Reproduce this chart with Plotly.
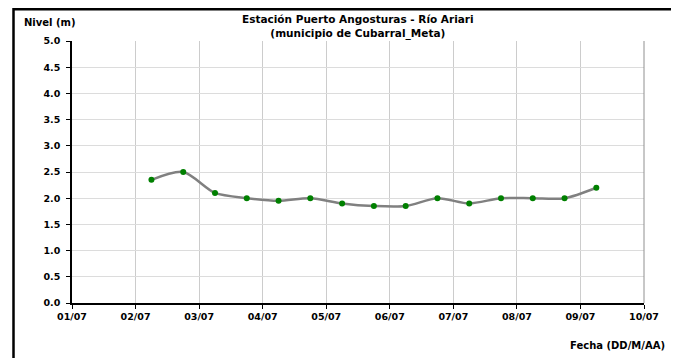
import plotly.graph_objects as go

# Data
fechas = [
    "2012-07-02 06:00", "2012-07-02 18:00", "2012-07-03 06:00", "2012-07-03 18:00",
    "2012-07-04 06:00", "2012-07-04 18:00", "2012-07-05 06:00", "2012-07-05 18:00",
    "2012-07-06 06:00", "2012-07-06 18:00", "2012-07-07 06:00", "2012-07-07 18:00",
    "2012-07-08 06:00", "2012-07-08 18:00", "2012-07-09 06:00",
]
nivel = [2.35, 2.5, 2.1, 2.0, 1.95, 2.0, 1.9, 1.85, 1.85, 2.0, 1.9, 2.0, 2.0, 2.0, 2.2]
y_ticks = [0.0, 0.5, 1.0, 1.5, 2.0, 2.5, 3.0, 3.5, 4.0, 4.5, 5.0]
x_range = ["2012-07-01", "2012-07-10"]
titulo = ["Estación Puerto Angosturas - Río Ariari", "(municipio de Cubarral_Meta)"]

FONT = "DejaVu Sans, Verdana, sans-serif"

fig = go.Figure()
fig.add_trace(go.Scatter(
    x=fechas, y=nivel, mode="lines+markers",
    line=dict(color="#808080", width=2.5, shape="spline", smoothing=0.8),
    marker=dict(color="#008000", size=6, line=dict(width=0)),
    hoverinfo="skip", showlegend=False,
))

# The page body has an 8px margin: figure is placed at (8, 8) in the window
OFF = 8
W, H = 671, 350
L, R, T, B = 64, 35, 33, 55
pw, ph = W - L - R, H - T - B

def px_x(px):
    return (px - OFF - L) / pw

def px_y(py):
    return (H - B - (py - OFF)) / ph

bold = dict(family=FONT, size=10, color="black", weight="bold")
title_font = dict(family=FONT, size=10.5, color="black", weight="bold")

fig.update_layout(
    width=W, height=H,
    margin=dict(l=L, r=R, t=T, b=B, pad=0),
    paper_bgcolor="white", plot_bgcolor="white",
    font=dict(family=FONT, size=10, color="black"),
    xaxis=dict(
        type="date", range=x_range, dtick=86400000, tick0="2012-07-01",
        tickformat="%d/%m", showgrid=True, gridcolor="#cccccc", gridwidth=1,
        showline=True, linecolor="black", linewidth=1.5,
        ticks="outside", ticklen=4, tickcolor="black", tickwidth=1,
        tickfont=dict(family=FONT, size=9.5, color="black", weight="bold"),
        zeroline=False, fixedrange=True,
    ),
    yaxis=dict(
        range=[0, 5], tickvals=y_ticks, ticktext=[f"{v:.1f}" for v in y_ticks],
        showgrid=True, gridcolor="#dcdcdc", gridwidth=1,
        showline=True, linecolor="black", linewidth=1.5,
        ticks="outside", ticklen=4, tickcolor="black", tickwidth=1,
        tickfont=dict(family=FONT, size=9.5, color="black", weight="bold"),
        ticklabelstandoff=4,
        zeroline=False, fixedrange=True,
    ),
    shapes=[
        dict(type="line", xref="paper", yref="paper", x0=1, x1=1, y0=0, y1=1,
             line=dict(color="#909090", width=1)),
        dict(type="rect", xref="paper", yref="paper",
             x0=px_x(13.5), x1=px_x(673), y0=px_y(380), y1=px_y(9.25),
             line=dict(color="black", width=2.5), fillcolor="rgba(0,0,0,0)"),
    ],
    annotations=[
        dict(text="<br>".join(titulo), xref="paper", yref="paper",
             x=px_x(357.5), y=px_y(26), xanchor="center", yanchor="middle", showarrow=False,
             align="center", font=title_font),
        dict(text="Nivel (m)", xref="paper", yref="paper",
             x=px_x(22), y=px_y(22), xanchor="left", yanchor="middle", showarrow=False,
             font=bold),
        dict(text="Fecha (DD/M/AA)", xref="paper", yref="paper",
             x=px_x(667), y=px_y(346), xanchor="right", yanchor="middle", showarrow=False,
             font=bold),
    ],
)

fig.write_html("out.html")
